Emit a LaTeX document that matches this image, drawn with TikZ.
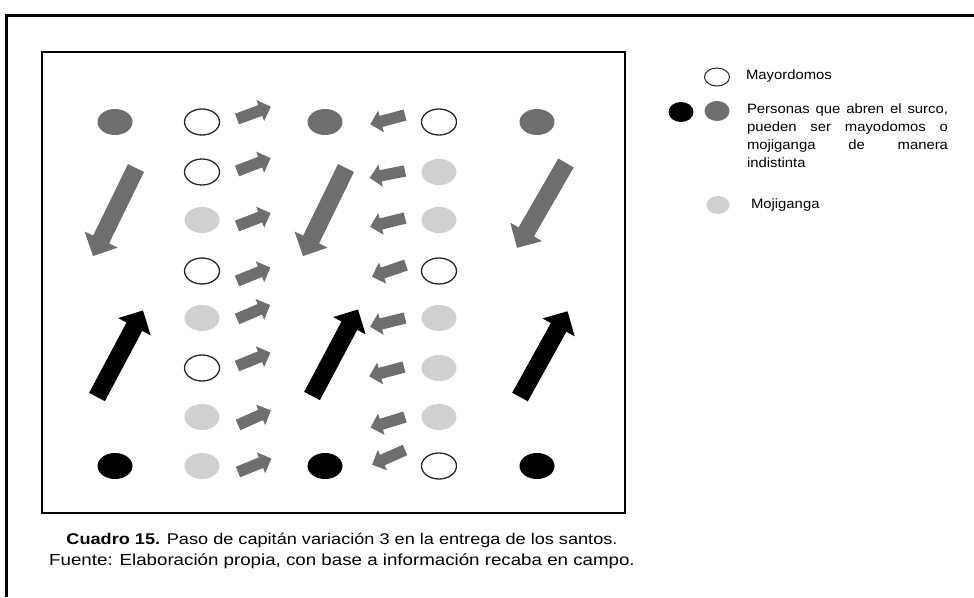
\documentclass[tikz,border=0pt]{standalone}
\usepackage{fontspec}
\setmainfont{Liberation Sans}[FakeStretch=1.17]
\newfontfamily\leyenda{Liberation Sans}[FakeStretch=1.1]
\usepackage{tikz}
\usetikzlibrary{shapes,shapes.geometric,shapes.arrows,positioning}
\definecolor{gris}{HTML}{6E6E6E}
\definecolor{grisclaro}{HTML}{D0D0D0}
\tikzset{
    mayor/.style={ellipse, draw=black!85, line width=1.3pt, fill=white,
    minimum width=35pt, minimum height=26pt, inner sep=0pt},
    moji/.style={ellipse, fill=grisclaro, minimum width=35pt, minimum height=26pt, inner sep=0pt},
    surco/.style={ellipse, fill=gris, minimum width=35pt, minimum height=26pt, inner sep=0pt},
    guia/.style={ellipse, fill=black, minimum width=35pt, minimum height=26pt, inner sep=0pt},
    flechita/.style={single arrow, fill=gris, inner xsep=0pt, inner ysep=5.5pt,
    single arrow head extend=5.5pt, minimum height=36pt, anchor=tail},
    flechota/.style={single arrow, inner xsep=0pt, inner ysep=8.7pt,
    single arrow head extend=9.5pt, minimum height=98pt, anchor=tail}
}

\begin{document}
\begin{tikzpicture}[x=1pt,y=1pt,outer sep=0pt]
    \useasboundingbox (0,0) rectangle (974,-597);
    \draw[line width=3pt] (6,-597) |- (974,-15);
    \draw[line width=1.6pt] (42,-52) rectangle (625,-513);

    % columna de la izquierda y del centro
    \node (S1) [surco] at (115,-122) {};
    \node (N1) [guia] at (115,-466) {};
    \node (S2) [surco] at (325,-122) {};
    \node (N2) [guia] at (325,-466) {};
    \node (S3) [surco] at (537,-122) {};
    \node (N3) [guia] at (537,-466) {};

    \node (A1) [mayor] at (202,-122) {};
    \node (A2) [mayor] at (202,-172) {};
    \node (A3) [moji] at (202,-220) {};
    \node (A4) [mayor] at (202,-271) {};
    \node (A5) [moji] at (202,-318) {};
    \node (A6) [mayor] at (202,-368) {};
    \node (A7) [moji] at (202,-417) {};
    \node (A8) [moji] at (202,-466) {};

    \node (B1) [mayor] at (439,-122) {};
    \node (B2) [moji] at (439,-172) {};
    \node (B3) [moji] at (439,-220) {};
    \node (B4) [mayor] at (439,-271) {};
    \node (B5) [moji] at (439,-318) {};
    \node (B6) [moji] at (439,-368) {};
    \node (B7) [moji] at (439,-417) {};
    \node (B8) [mayor] at (439,-466) {};

    % flechas chicas
    \node (FA1) [flechita,rotate=20] at (237,-119) {};
    \node (FA2) [flechita,rotate=21] at (237,-171) {};
    \node (FA3) [flechita,rotate=21] at (237,-226) {};
    \node (FA4) [flechita,rotate=22] at (237,-281) {};
    \node (FA5) [flechita,rotate=23] at (237,-319) {};
    \node (FA6) [flechita,rotate=22] at (237,-366) {};
    \node (FA7) [flechita,rotate=24] at (238,-425) {};
    \node (FA8) [flechita,rotate=22] at (238,-472) {};

    \node (FB1) [flechita,rotate=195] at (405,-115) {};
    \node (FB2) [flechita,rotate=191] at (405,-171) {};
    \node (FB3) [flechita,rotate=194] at (405,-218) {};
    \node (FB4) [flechita,rotate=199] at (406,-265) {};
    \node (FB5) [flechita,rotate=194] at (405,-318) {};
    \node (FB6) [flechita,rotate=195] at (404,-367) {};
    \node (FB7) [flechita,rotate=197] at (405,-417) {};
    \node (FB8) [flechita,rotate=204] at (405,-450) {};

    % flechas grandes
    \node (G1) [flechota,fill=gris,rotate=244] at (136,-168) {};
    \node (G2) [flechota,fill=gris,rotate=244] at (346,-168) {};
    \node (G3) [flechota,fill=gris,rotate=240] at (566,-163) {};
    \node (K1) [flechota,fill=black,rotate=62] at (97,-397) {};
    \node (K2) [flechota,fill=black,rotate=62] at (312,-396) {};
    \node (K3) [flechota,fill=black,rotate=61] at (520,-397) {};

    % leyenda
    \node (L1) [mayor,minimum width=25pt,minimum height=18pt,line width=1pt] at (717,-77) {};
    \node (L2) [guia,minimum width=25pt,minimum height=20pt] at (681,-112) {};
    \node (L3) [surco,minimum width=25pt,minimum height=20pt] at (717,-111) {};
    \node (L4) [moji,minimum width=23pt,minimum height=18pt] at (718,-205) {};
    \node (T1) [anchor=west,inner sep=0pt,font=\leyenda\fontsize{13.5}{18}\selectfont] at (746,-76) {Mayordomos};
    \node (T2) [anchor=north west,inner sep=0pt,text width=201pt,align=justify,
        font=\leyenda\fontsize{13.5}{18}\selectfont] at (747,-104)
        {Personas que abren el surco,\linebreak pueden ser mayodomos o\linebreak mojiganga de manera\linebreak indistinta};
    \node (T3) [anchor=west,inner sep=0pt,font=\leyenda\fontsize{13.5}{18}\selectfont] at (751,-205) {Mojiganga};

    \node (C) [align=center,inner sep=0pt,font=\fontsize{16}{21}\selectfont] at (342,-551)
        {{\fontsize{15.5}{21}\selectfont\textbf{Cuadro 15.} Paso de capitán variación 3 en la entrega de los santos.}\\
        Fuente: Elaboración propia, con base a información recaba en campo.};
\end{tikzpicture}
\end{document}
